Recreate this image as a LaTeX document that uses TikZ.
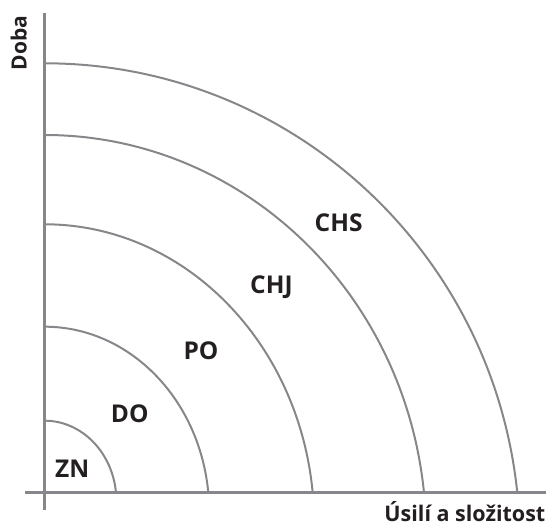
\documentclass[tikz,border=0pt]{standalone}
\usepackage{fontspec}
\setmainfont{Open Sans}
\definecolor{linegray}{RGB}{135,135,139}
\definecolor{txt}{RGB}{35,31,32}
\begin{document}
\begin{tikzpicture}[x=1pt,y=1pt,
  curve/.style={draw=linegray,line width=2pt},
  axis/.style={draw=linegray,line width=2.5pt},
  zone/.style={inner sep=0pt,anchor=base west,text=txt,font=\fontsize{24.5}{26}\selectfont\bfseries},
  axlabel/.style={inner sep=0pt,text=txt,font=\fontsize{21.5}{23}\selectfont\bfseries}]
\useasboundingbox (0,0) rectangle (548,526);
% axes
\coordinate (ytop) at (44.6,513);
\coordinate (ybot) at (44.6,16);
\coordinate (xl) at (25,33.3);
\coordinate (xr) at (546,33.3);
\draw[axis] (ytop) -- (ybot);
\draw[axis] (xl) -- (xr);
% arcs (elliptic arcs whose centre lies a little below the axis)
\begin{scope}[shift={(44.6,33.3)}]
\foreach \rx/\ry in {71.4/72,163.7/166,268.1/268.4,379.4/357.7,472.7/429.4}
  \draw[curve] (0,\ry) arc[start angle=90,end angle=5.966,
     x radius={1.00545*\rx},y radius={1.116*\ry}];
\end{scope}
% zone labels
\node[zone] (zn) at (55,48) {ZN};
\node[zone] (do) at (110.7,103.3) {DO};
\node[zone] (po) at (183.3,166.7) {PO};
\node[zone] (chj) at (250,232.7) {CHJ};
\node[zone] (chs) at (314.5,294.3) {CHS};
% axis labels
\node[axlabel,anchor=base east] (xlab) at (545.5,4) {Úsilí a složitost};
\node[axlabel,anchor=base west,rotate=90,font=\fontsize{21}{23}\selectfont\bfseries] (ylab) at (26.5,455.5) {Doba};
\end{tikzpicture}
\end{document}
